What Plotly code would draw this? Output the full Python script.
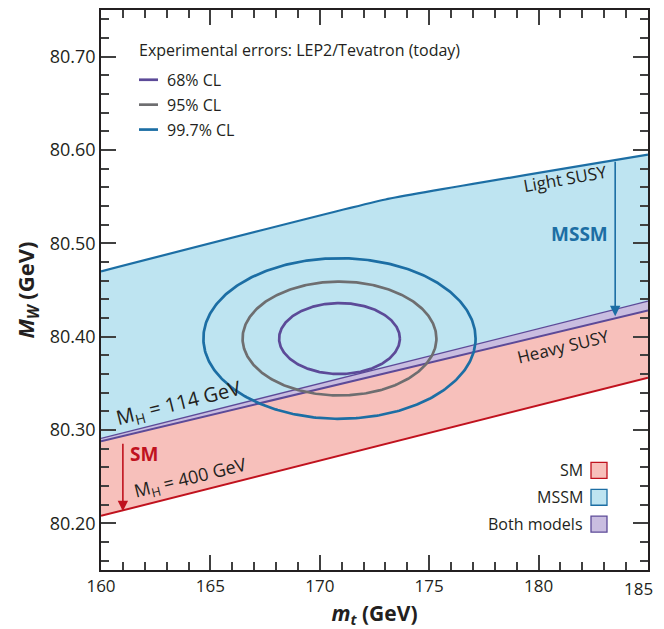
import numpy as np
import plotly.graph_objects as go

# ---- data ----
mt_light = [160, 173, 185]                 # MSSM upper edge (light SUSY)
mw_light = [80.470, 80.547, 80.595]
mt_band = [160, 185]
mw_mh114 = [80.291, 80.438]                # SM upper edge, M_H = 114 GeV
mw_heavy = [80.288, 80.428]                # MSSM lower edge (heavy SUSY)
mw_mh400 = [80.208, 80.356]                # SM lower edge, M_H = 400 GeV

ell_center_mt = 170.9
ell_center_mw = 80.398
ell_names = ["68% CL", "95% CL", "99.7% CL"]
ell_dmt = [2.76, 4.43, 6.22]
ell_dmw = [0.038, 0.061, 0.086]

x_ticks = [160, 165, 170, 175, 180, 185]
x_ticklabels = ["160", "165", "170", "175", "180", "185"]
y_ticks = [80.20, 80.30, 80.40, 80.50, 80.60, 80.70]
y_ticklabels = ["80.20", "80.30", "80.40", "80.50", "80.60", "80.70"]

# ---- style ----
FONT = "Open Sans"
TXT = "#231f20"
BLUE_F, BLUE_L = "#bee4f1", "#1c6ea4"
RED_F, RED_L = "#f7c0bb", "#c0121e"
PUR_F, PUR_L = "#c9bde0", "#5c4a98"
GRAY_L = "#6e6e70"
ell_colors = [PUR_L, GRAY_L, BLUE_L]

# page has an 8px body margin; figure sized/placed to compensate
OFF = 8
W, H = 664 - OFF, 629 - OFF
ML, MR, MT, MB = 93, 16, 0, 59
PW, PH = W - ML - MR, H - MT - MB


def px(x):  # page pixel -> paper x
    return (x - OFF - ML) / PW


def py(y):  # page pixel -> paper y
    return (H - MB - (y - OFF)) / PH


fig = go.Figure()

# filled regions
fig.add_trace(go.Scatter(x=mt_light + mt_band[::-1], y=mw_light + mw_mh114[::-1],
                         fill="toself", fillcolor=BLUE_F, mode="lines",
                         line=dict(width=0), hoverinfo="skip", showlegend=False))
fig.add_trace(go.Scatter(x=mt_band + mt_band[::-1], y=mw_heavy + mw_mh400[::-1],
                         fill="toself", fillcolor=RED_F, mode="lines",
                         line=dict(width=0), hoverinfo="skip", showlegend=False))
fig.add_trace(go.Scatter(x=mt_band + mt_band[::-1], y=mw_mh114 + mw_heavy[::-1],
                         fill="toself", fillcolor=PUR_F, mode="lines",
                         line=dict(width=0), hoverinfo="skip", showlegend=False))

# boundary lines
fig.add_trace(go.Scatter(x=mt_band, y=mw_mh400, mode="lines",
                         line=dict(color=RED_L, width=2), showlegend=False))
fig.add_trace(go.Scatter(x=mt_light, y=mw_light, mode="lines",
                         line=dict(color=BLUE_L, width=2.2, shape="spline", smoothing=0.3),
                         showlegend=False))
fig.add_trace(go.Scatter(x=mt_band, y=mw_mh114, mode="lines",
                         line=dict(color=PUR_L, width=1.3), showlegend=False))
fig.add_trace(go.Scatter(x=mt_band, y=mw_heavy, mode="lines",
                         line=dict(color=PUR_L, width=2), showlegend=False))

# ellipses
t = np.linspace(0, 2 * np.pi, 361)
for name, a, b, c in zip(ell_names, ell_dmt, ell_dmw, ell_colors):
    fig.add_trace(go.Scatter(x=ell_center_mt + a * np.cos(t),
                             y=ell_center_mw + b * np.sin(t),
                             mode="lines", name=name,
                             line=dict(color=c, width=2.7), showlegend=False))

ann = []
shapes = []

# arrows
ann.append(dict(x=161.0, y=80.213, ax=161.0, ay=80.287, xref="x", yref="y",
                axref="x", ayref="y", text="", showarrow=True, arrowhead=2,
                arrowsize=1.3, arrowwidth=1.6, arrowcolor=RED_L))
ann.append(dict(x=183.5, y=80.422, ax=183.5, ay=80.589, xref="x", yref="y",
                axref="x", ayref="y", text="", showarrow=True, arrowhead=2,
                arrowsize=1.3, arrowwidth=1.6, arrowcolor=BLUE_L))

# in-plot labels
ann.append(dict(x=161.95, y=80.274, xref="x", yref="y", text="<b>SM</b>",
                showarrow=False, font=dict(family=FONT, size=19, color=RED_L)))
ann.append(dict(x=181.85, y=80.510, xref="x", yref="y", text="<b>MSSM</b>",
                showarrow=False, font=dict(family=FONT, size=19, color=BLUE_L)))
ann.append(dict(x=181.2, y=80.569, xref="x", yref="y", text="Light SUSY",
                textangle=-10, showarrow=False, font=dict(family=FONT, size=17, color=TXT)))
ann.append(dict(x=181.1, y=80.390, xref="x", yref="y", text="Heavy SUSY",
                textangle=-13.5, showarrow=False, font=dict(family=FONT, size=17, color=TXT)))
ann.append(dict(x=163.55, y=80.328, xref="x", yref="y", text="M<sub>H</sub> = 114 GeV",
                textangle=-14, showarrow=False, font=dict(family=FONT, size=20, color=TXT)))
ann.append(dict(x=164.1, y=80.248, xref="x", yref="y", text="M<sub>H</sub> = 400 GeV",
                textangle=-14, showarrow=False, font=dict(family=FONT, size=18, color=TXT)))

# last x tick label: kept inside the visible page width
ann.append(dict(x=x_ticks[-1], y=0, xref="x", yref="paper", xanchor="right", yanchor="top",
                xshift=7, yshift=-5, text=x_ticklabels[-1], showarrow=False,
                font=dict(family=FONT, size=17, color=TXT)))

# top-left legend
ann.append(dict(x=px(137), y=py(48), xref="paper", yref="paper", xanchor="left",
                yanchor="middle", text="Experimental errors: LEP2/Tevatron (today)",
                showarrow=False, font=dict(family=FONT, size=16, color=TXT)))
for name, c, yy in zip(ell_names, ell_colors, [78, 103, 128]):
    shapes.append(dict(type="line", xref="paper", yref="paper",
                       x0=px(139), x1=px(158), y0=py(yy), y1=py(yy),
                       line=dict(color=c, width=2.7)))
    ann.append(dict(x=px(165), y=py(yy), xref="paper", yref="paper", xanchor="left",
                    yanchor="middle", text=name, showarrow=False,
                    font=dict(family=FONT, size=16, color=TXT)))

# bottom-right legend
for name, fc, lc, yy in zip(["SM", "MSSM", "Both models"], [RED_F, BLUE_F, PUR_F],
                            [RED_L, BLUE_L, PUR_L], [470, 497, 524]):
    shapes.append(dict(type="rect", xref="paper", yref="paper",
                       x0=px(591), x1=px(607), y0=py(yy - 8), y1=py(yy + 8),
                       fillcolor=fc, line=dict(color=lc, width=1.3)))
    ann.append(dict(x=px(585), y=py(yy), xref="paper", yref="paper", xanchor="right",
                    yanchor="middle", text=name, showarrow=False,
                    font=dict(family=FONT, size=16, color=TXT)))

axis_common = dict(showline=True, linecolor=TXT, linewidth=1.5, mirror="ticks",
                   ticks="inside", ticklen=15, tickwidth=1.5, tickcolor="#404040",
                   showgrid=False, zeroline=False)

fig.update_layout(
    width=W, height=H,
    margin=dict(l=ML, r=MR, t=MT, b=MB),
    paper_bgcolor="white", plot_bgcolor="white",
    showlegend=False,
    xaxis=dict(range=[160, 185], tickvals=x_ticks,
               ticktext=x_ticklabels[:-1] + [""],
               tickfont=dict(family=FONT, size=17, color=TXT),
               minor=dict(dtick=1, ticks="inside", ticklen=8, tickwidth=1.5, tickcolor="#404040"),
               title=dict(text="<b><i>m</i><sub><i>t</i></sub> (GeV)</b>",
                          font=dict(family=FONT, size=21, color=TXT), standoff=10),
               **axis_common),
    yaxis=dict(range=[80.15, 80.75], tickvals=y_ticks, ticktext=y_ticklabels,
               tickfont=dict(family=FONT, size=18, color=TXT),
               minor=dict(dtick=0.02, tick0=80.0, ticks="inside", ticklen=8, tickwidth=1.5,
                          tickcolor="#404040"),
               title=dict(text="<b><i>M</i><sub><i>W</i></sub> (GeV)</b>",
                          font=dict(family=FONT, size=22, color=TXT), standoff=9),
               **axis_common),
    annotations=ann,
    shapes=shapes,
)

fig.write_html("out.html")
